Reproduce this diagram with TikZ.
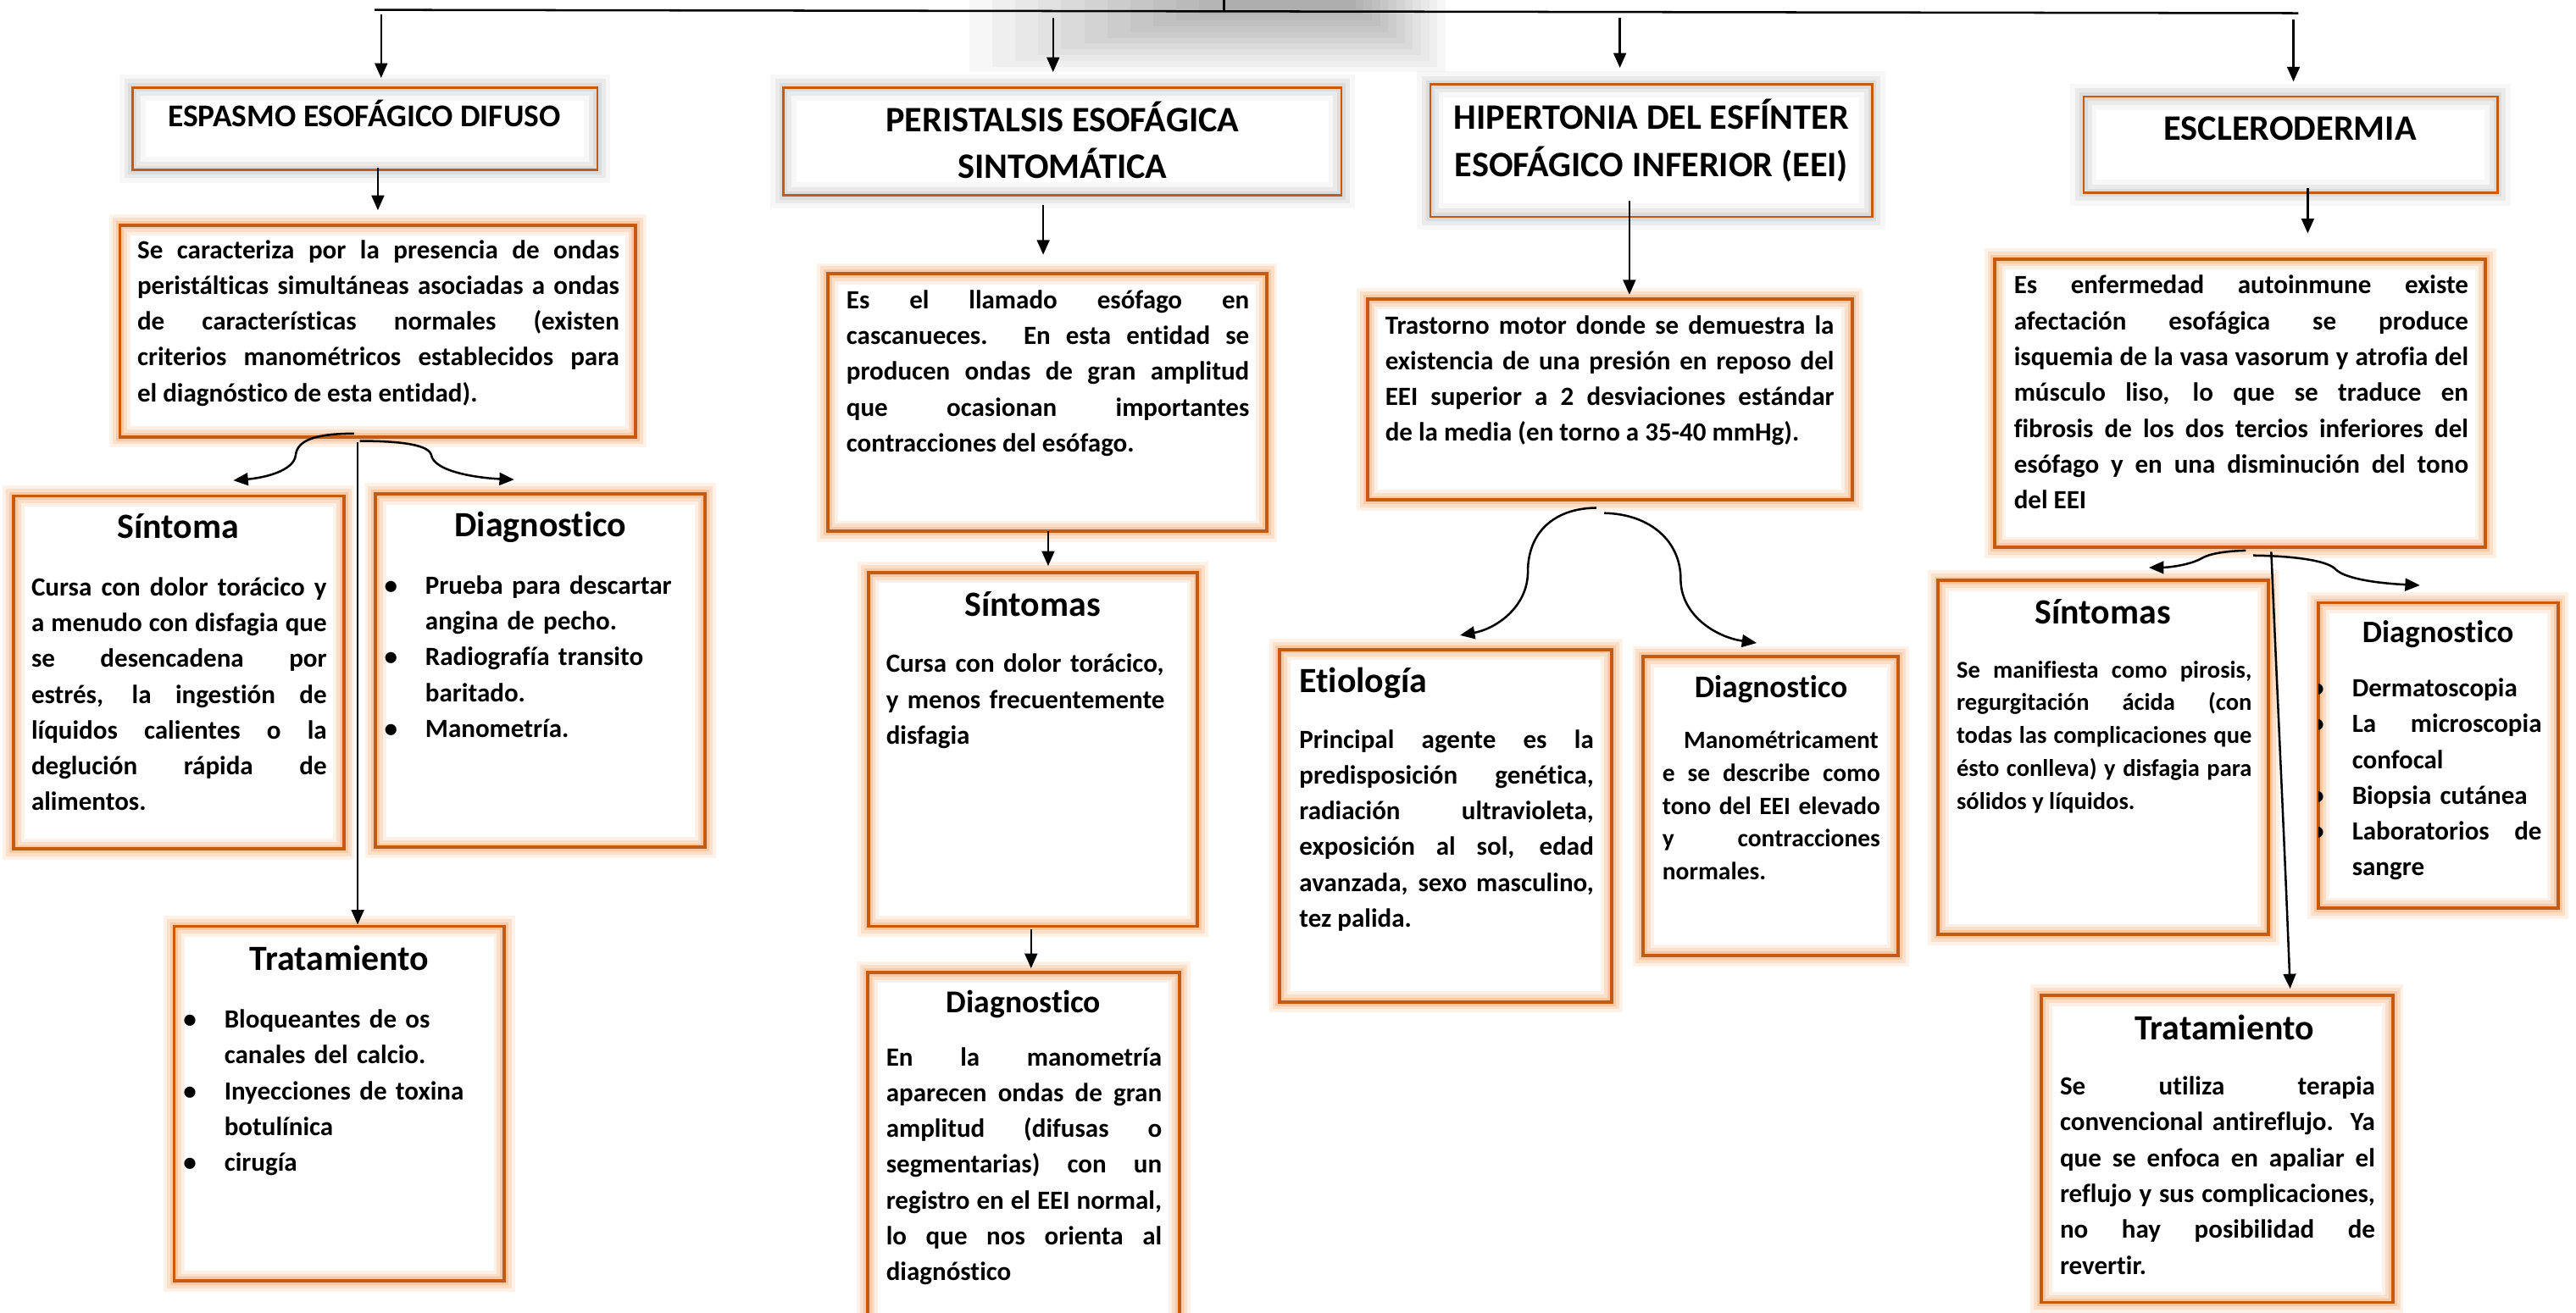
\documentclass[tikz,border=0pt]{standalone}
\usepackage{fontspec}
\setmainfont{Carlito}[Ligatures=NoCommon]
\usetikzlibrary{arrows.meta,fit}
\definecolor{ordark}{RGB}{197,90,17}
\definecolor{orglow}{RGB}{245,140,60}
\newcommand{\mybul}{\leavevmode\llap{\textbullet\hspace{8.5pt}}}
\begin{document}
\begin{tikzpicture}[x=0.5pt,y=-0.5pt,
  conn/.style={line width=0.65pt, black},
  arr/.style={conn, -{Triangle[length=4.5pt,width=3.8pt]}},
  titlebox/.style={draw=ordark, line width=0.7pt, inner sep=0pt,
    preaction={fill=white},
    preaction={draw=black, opacity=0.03, line width=8pt},
    preaction={draw=black, opacity=0.05, line width=5pt},
    preaction={draw=black, opacity=0.06, line width=2.5pt}},
  glowbox/.style={draw=ordark, line width=1pt, inner sep=0pt,
    preaction={fill=white},
    preaction={draw=orglow, opacity=0.12, line width=6.5pt},
    preaction={draw=orglow, opacity=0.18, line width=4.5pt},
    preaction={draw=orglow, opacity=0.25, line width=2.5pt}},
  bodyj/.style={anchor=north west, inner sep=0pt, align=justify, font=\bfseries\fontsize{8}{10.9}\selectfont},
  bodyl/.style={bodyj, align=left},
  hd/.style={anchor=base, inner sep=0pt, font=\bfseries\fontsize{10.8}{13}\selectfont},
  hds/.style={hd, font=\bfseries\fontsize{9.6}{12}\selectfont},
  ttl/.style={anchor=north, inner sep=0pt, align=center, font=\bfseries\fontsize{10.9}{14.25}\selectfont}]
\useasboundingbox (0,0) rectangle (1568,799);

% faded gray shadow at the top
\foreach \i in {0,...,11}
  \fill[black, opacity=0.033] ({590+\i*14},0) rectangle ({880-\i*5},{44-\i*3.5});

% ---------- title boxes
\node[titlebox, fit={(80.6,53.2) (363.6,103.5)}] (t1) {};
\node[titlebox, fit={(476.9,53.2) (816.5,119)}] (t2) {};
\node[titlebox, fit={(870.6,51.4) (1139.6,132)}] (t3) {};
\node[titlebox, fit={(1268.3,58.8) (1520.3,117.4)}] (t4) {};

% ---------- glow boxes
\node[glowbox, fit={(73,137) (387,266)}] (d1) {};
\node[glowbox, fit={(503.8,166.7) (771,323.5)}] (d2) {};
\node[glowbox, fit={(832.3,182) (1127.3,304.5)}] (d3) {};
\node[glowbox, fit={(1214.3,157.7) (1513,333.3)}] (d4) {};

\node[glowbox, fit={(8.3,302) (209.3,517)}] (s1) {};
\node[glowbox, fit={(228.6,300.7) (429.3,516)}] (g1) {};
\node[glowbox, fit={(106,564) (307,780)}] (r1) {};

\node[glowbox, fit={(528.5,348.6) (729,564)}] (s2) {};
\node[glowbox, fit={(528,592) (718,815)}] (g2) {};

\node[glowbox, fit={(779,395.4) (981,610)}] (e3) {};
\node[glowbox, fit={(1000.2,399.8) (1155.3,581.8)}] (g3) {};

\node[glowbox, fit={(1179.8,353.5) (1380.7,569)}] (s4) {};
\node[glowbox, fit={(1411.2,367) (1557,553)}] (g4) {};
\node[glowbox, fit={(1242.5,606) (1456.5,793)}] (r4) {};

% ---------- titles
\node[hd, font=\bfseries\fontsize{9.65}{12}\selectfont] (t1t) at (221.7,77.1) {ESPASMO ESOFÁGICO DIFUSO};
\node[ttl] (t2t) at (646.7,59.75) {\strut PERISTALSIS ESOFÁGICA\\SINTOMÁTICA};
\node[ttl] (t3t) at (1005.2,58.45) {\strut HIPERTONIA DEL ESFÍNTER\\ESOFÁGICO INFERIOR (EEI)};
\node[hd, font=\bfseries\fontsize{10.9}{13}\selectfont] (t4t) at (1394,85.3) {ESCLERODERMIA};

% ---------- descriptions
\node[bodyj, text width=146.7pt] (d1t) at (83.2,141.7) {\strut Se caracteriza por la presencia de ondas\linebreak peristálticas simultáneas asociadas a ondas\linebreak de características normales (existen\linebreak criterios manométricos establecidos para\linebreak el diagnóstico de esta entidad).};
\node[bodyj, text width=122.6pt] (d2t) at (514.8,172.2) {\strut Es el llamado esófago en\linebreak cascanueces. En esta entidad se\linebreak producen ondas de gran amplitud\linebreak que ocasionan importantes\linebreak contracciones del esófago.};
\node[bodyj, text width=136.6pt] (d3t) at (842.8,187.6) {\strut Trastorno motor donde se demuestra la\linebreak existencia de una presión en reposo del\linebreak EEI superior a 2 desviaciones estándar\linebreak de la media (en torno a 35-40 mmHg).};
\node[bodyj, text width=138.3pt] (d4t) at (1225.5,163.3) {\strut Es enfermedad autoinmune existe\linebreak afectación esofágica se produce\linebreak isquemia de la vasa vasorum y atrofia del\linebreak músculo liso, lo que se traduce en\linebreak fibrosis de los dos tercios inferiores del\linebreak esófago y en una disminución del tono\linebreak del EEI};

% ---------- column 1
\node[hd] (s1h) at (108.4,328) {Síntoma};
\node[bodyj, text width=89.9pt] (s1t) at (18.7,347.1) {\strut Cursa con dolor torácico y\linebreak a menudo con disfagia que\linebreak se desencadena por\linebreak estrés, la ingestión de\linebreak líquidos calientes o la\linebreak deglución rápida de\linebreak alimentos.};
\node[hd] (g1h) at (329,327) {Diagnostico};
\node[bodyl, text width=82pt] (g1t) at (258.5,346.1) {\strut\mybul Prueba para descartar\\ angina de pecho.\\ \mybul Radiografía transito\\ baritado.\\ \mybul Manometría.};
\node[hd] (r1h) at (206.5,591) {Tratamiento};
\node[bodyl, text width=82pt] (r1t) at (136.2,610.3) {\strut\mybul Bloqueantes de os\\ canales del calcio.\\ \mybul Inyecciones de toxina\\ botulínica\\ \mybul cirugía};

% ---------- column 2
\node[hd] (s2h) at (628.6,375) {Síntomas};
\node[bodyl, text width=90pt] (s2t) at (539,393.8) {\strut Cursa con dolor torácico,\\ y menos frecuentemente\\ disfagia};
\node[hd, font=\bfseries\fontsize{9.7}{12}\selectfont] (g2h) at (623,616.4) {Diagnostico};
\node[bodyj, text width=83.9pt] (g2t) at (539,633.2) {\strut En la manometría\linebreak aparecen ondas de gran\linebreak amplitud (difusas o\linebreak segmentarias) con un\linebreak registro en el EEI normal,\linebreak lo que nos orienta al\linebreak diagnóstico};

% ---------- column 3
\node[hd, anchor=base west] (e3h) at (790.5,421.7) {Etiología};
\node[bodyj, text width=89.6pt] (e3t) at (790.5,439.8) {\strut Principal agente es la\linebreak predisposición genética,\linebreak radiación ultravioleta,\linebreak exposición al sol, edad\linebreak avanzada, sexo masculino,\linebreak tez palida.};
\node[hds] (g3h) at (1078,424.9) {Diagnostico};
\node[bodyj, text width=66.3pt, font=\bfseries\fontsize{7.6}{10}\selectfont] (g3t) at (1011.5,441.3) {\strut\hspace*{6.5pt}Manométricament\linebreak e se describe como\linebreak tono del EEI elevado\linebreak y contracciones\linebreak normales.};

% ---------- column 4
\node[hd] (s4h) at (1280,380) {Síntomas};
\node[bodyj, text width=89.8pt, font=\bfseries\fontsize{7.35}{10}\selectfont] (s4t) at (1190.6,398.3) {\strut Se manifiesta como pirosis,\linebreak regurgitación ácida (con\linebreak todas las complicaciones que\linebreak ésto conlleva) y disfagia para\linebreak sólidos y líquidos.};
\node[hd, font=\bfseries\fontsize{9.5}{12}\selectfont] (g4h) at (1484,391.3) {Diagnostico};
\begin{scope}
\clip (1411.2,367) rectangle (1557,553);
\node[bodyl, text width=57.7pt] (g4t) at (1431.3,408.6) {\strut\mybul Dermatoscopia\\ \mybul La\hspace{0pt plus 1filll}microscopia\\ confocal\\ \mybul Biopsia cutánea\\ \mybul Laboratorios\hspace{0pt plus 1filll}de\\ sangre};
\end{scope}
\node[hd] (r4h) at (1354,633) {Tratamiento};
\node[bodyj, text width=95.9pt] (r4t) at (1253.5,651.1) {\strut Se utiliza terapia\linebreak convencional antireflujo. Ya\linebreak que se enfoca en apaliar el\linebreak reflujo y sus complicaciones,\linebreak no hay posibilidad de\linebreak revertir.};

% ---------- connectors
\coordinate (topin) at (745,0);
\coordinate (bar) at (745,7);
\coordinate (barl) at (228,6);
\coordinate (barr) at (1399,8);
\draw[conn] (topin) -- (bar);
\draw[conn] (barl) -- (barr);
\coordinate (a1) at (232,9);
\coordinate (a2) at (641,11);
\coordinate (a3) at (986,11);
\coordinate (a4) at (1396,12);
\draw[arr, shorten >=2.5pt] (a1) -- (a1 |- t1.north);
\draw[arr, shorten >=4.3pt] (a2) -- (a2 |- t2.north);
\draw[arr, shorten >=4.7pt] (a3) -- (a3 |- t3.north);
\draw[arr, shorten >=4.2pt] (a4) -- (a4 |- t4.north);

\coordinate (c1) at (230,102);
\coordinate (c2) at (635,125);
\coordinate (c3) at (991.8,122);
\coordinate (c4) at (1404.7,114.5);
\draw[arr, shorten >=4pt] (c1) -- (c1 |- d1.north);
\draw[arr, shorten >=5.3pt] (c2) -- (c2 |- d2.north);
\draw[arr, shorten >=0.8pt] (c3) -- (c3 |- d3.north);
\draw[arr, shorten >=7.3pt] (c4) -- (c4 |- d4.north);

\coordinate (c5) at (638,323.5);
\coordinate (c6) at (627.6,566);
\draw[arr, shorten >=1.5pt] (c5) -- (c5 |- s2.north);
\draw[arr, shorten >=0.7pt] (c6) -- (c6 |- g2.north);

% brace under D1
\coordinate (b1l) at (215.5,264);
\coordinate (b1r) at (219,268.5);
\coordinate (b1v) at (217.7,269);
\coordinate (e1l) at (142,292.5);
\coordinate (e1r) at (313,292);
\draw[arr] (b1l) .. controls (192,264) and (181,268) .. (180,277) .. controls (179,287) and (160,291) .. (e1l);
\draw[arr] (b1r) .. controls (245,268.5) and (261,271) .. (262.5,277) .. controls (264,287) and (290,291) .. (e1r);
\draw[arr] (b1v) -- (b1v |- r1.north);

% brace under D3
\coordinate (b3l) at (971.7,309.2);
\coordinate (b3r) at (976.5,312.4);
\coordinate (e3l) at (888.7,386.8);
\coordinate (e3r) at (1069.3,391.5);
\draw[arr] (b3l) .. controls (945,309.5) and (930,325) .. (930,348) .. controls (930,370) and (910,383) .. (e3l);
\draw[arr] (b3r) .. controls (1005,313) and (1023,330) .. (1023,352.4) .. controls (1023,375) and (1045,388) .. (e3r);

% brace under D4
\coordinate (b4l) at (1367,335.2);
\coordinate (b4r) at (1371.5,338.2);
\coordinate (b4v) at (1382.5,336);
\coordinate (e4l) at (1308,345.6);
\coordinate (e4r) at (1473,356.4);
\coordinate (e4v) at (1394,602);
\draw[arr] (b4l) .. controls (1355,335.5) and (1345,337) .. (1340,340) .. controls (1333,344) and (1320,345.5) .. (e4l);
\draw[arr] (b4r) .. controls (1395,338.5) and (1415,341) .. (1421,346) .. controls (1426,352) and (1445,355) .. (e4r);
\draw[arr] (b4v) .. controls (1386,420) and (1390,500) .. (e4v);
\end{tikzpicture}
\end{document}
